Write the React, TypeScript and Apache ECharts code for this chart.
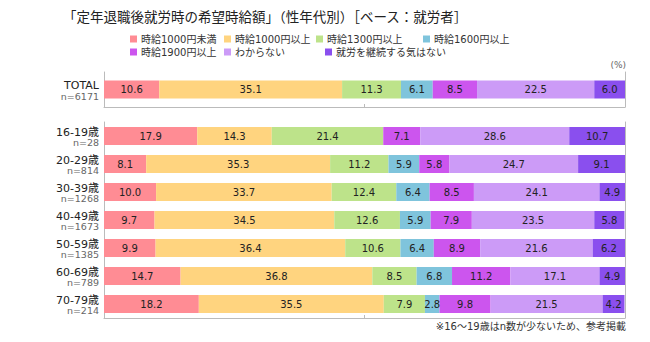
import React, { useEffect, useRef } from "react";
import * as echarts from "echarts";

const seriesNames = [
  "時給1000円未満",
  "時給1000円以上",
  "時給1300円以上",
  "時給1600円以上",
  "時給1900円以上",
  "わからない",
  "就労を継続する気はない",
];
const colors = ["#FF8C94", "#FFD47F", "#BDE38A", "#7FC4DC", "#CC55EE", "#CC9BF7", "#8A4FEE"];

const totalCategory = ["TOTAL"];
const totalN = ["6171"];
const totalValues = [[10.6], [35.1], [11.3], [6.1], [8.5], [22.5], [6.0]];

const ageCategories = ["16-19歳", "20-29歳", "30-39歳", "40-49歳", "50-59歳", "60-69歳", "70-79歳"];
const ageN = ["28", "814", "1268", "1673", "1385", "789", "214"];
// each array: one series across age groups
const under1000 = [17.9, 8.1, 10.0, 9.7, 9.9, 14.7, 18.2];
const over1000 = [14.3, 35.3, 33.7, 34.5, 36.4, 36.8, 35.5];
const over1300 = [21.4, 11.2, 12.4, 12.6, 10.6, 8.5, 7.9];
const over1600 = [null, 5.9, 6.4, 5.9, 6.4, 6.8, 2.8];
const over1900 = [7.1, 5.8, 8.5, 7.9, 8.9, 11.2, 9.8];
const unknown = [28.6, 24.7, 24.1, 23.5, 21.6, 17.1, 21.5];
const noWork = [10.7, 9.1, 4.9, 5.8, 6.2, 4.9, 4.2];
const ageValues = [under1000, over1000, over1300, over1600, over1900, unknown, noWork];

const FONT = "DejaVu Sans, Noto Sans CJK JP, sans-serif";

export default function App() {
  const ref = useRef<HTMLDivElement>(null);
  useEffect(() => {
    if (!ref.current) return;
    const chart = echarts.init(ref.current, null, { renderer: "svg" });

    const legendPos = [
      [130, 34], [224, 34], [316, 34], [423, 34],
      [130, 47], [224, 47], [325, 47],
    ];

    const xAxisBase = (gridIndex: number) => ({
      type: "value",
      gridIndex,
      min: 0,
      max: 100,
      interval: 50,
      axisLabel: { show: false },
      splitLine: { show: false },
      axisLine: { show: true, lineStyle: { color: "#BBBBBB" } },
      axisTick: { show: true, inside: true, length: 3, lineStyle: { color: "#BBBBBB" } },
    });

    const yLabel = (nList: string[], cats: string[]) => ({
      show: true,
      margin: 5,
      align: "right",
      formatter: (v: string) => {
        const i = cats.indexOf(v);
        return `{a|${v}}\n{b|n=${nList[i]}}`;
      },
      rich: {
        a: { fontSize: 11, color: "#222", fontFamily: FONT, lineHeight: 13, align: "right", padding: [4, 0, 0, 0] },
        b: { fontSize: 9.5, color: "#666", fontFamily: FONT, lineHeight: 12, align: "right" },
      },
    });

    const yAxisBase = (gridIndex: number, cats: string[], nList: string[]) => ({
      type: "category",
      gridIndex,
      data: cats,
      inverse: true,
      axisLine: { show: true, lineStyle: { color: "#BBBBBB" } },
      axisTick: { show: false },
      axisLabel: yLabel(nList, cats),
    });

    const yAxisRight = (gridIndex: number, cats: string[]) => ({
      type: "category",
      gridIndex,
      data: cats,
      inverse: true,
      position: "right",
      axisLine: { show: true, lineStyle: { color: "#BBBBBB" } },
      axisTick: { show: false },
      axisLabel: { show: false },
    });

    const labelCfg = {
      show: true,
      position: "inside",
      fontSize: 10,
      color: "#222",
      fontFamily: FONT,
      formatter: (p: any) => (p.value == null || p.value === 0 ? "" : Number(p.value).toFixed(1)),
    };

    const series: any[] = [];
    seriesNames.forEach((name, i) => {
      series.push({
        name,
        type: "bar",
        stack: "total",
        xAxisIndex: 0,
        yAxisIndex: 0,
        barWidth: 18,
        itemStyle: { color: colors[i] },
        label: labelCfg,
        data: totalValues[i],
      });
    });
    seriesNames.forEach((name, i) => {
      series.push({
        name,
        type: "bar",
        stack: "age",
        xAxisIndex: 1,
        yAxisIndex: 2,
        barWidth: 18,
        itemStyle: { color: colors[i] },
        label: labelCfg,
        data: ageValues[i],
      });
    });

    chart.setOption({
      animation: false,
      backgroundColor: "#FFFFFF",
      title: {
        text: "「定年退職後就労時の希望時給額」（性年代別）［ベース：就労者］",
        left: 58,
        top: 5,
        textStyle: { fontSize: 13.5, fontWeight: "normal", color: "#222", fontFamily: FONT },
      },
      legend: seriesNames.map((name, i) => ({
        data: [name],
        left: legendPos[i][0],
        top: legendPos[i][1],
        icon: "rect",
        itemWidth: 7,
        itemHeight: 7,
        itemGap: 4,
        padding: 0,
        selectedMode: false,
        textStyle: { fontSize: 10, color: "#333", fontFamily: FONT, padding: [0, 0, 0, -1] },
      })),
      grid: [
        { left: 104, top: 72, width: 521, height: 35 },
        { left: 104, top: 122, width: 521, height: 196 },
      ],
      xAxis: [xAxisBase(0), xAxisBase(1)],
      yAxis: [
        yAxisBase(0, totalCategory, totalN),
        yAxisRight(0, totalCategory),
        yAxisBase(1, ageCategories, ageN),
        yAxisRight(1, ageCategories),
      ],
      graphic: [
        {
          type: "text",
          right: 650 - 626,
          top: 60,
          style: { text: "(%)", fontSize: 9, fill: "#666", fontFamily: FONT },
        },
        {
          type: "text",
          right: 650 - 626,
          top: 321,
          style: { text: "※16～19歳はn数が少ないため、参考掲載", fontSize: 10, fill: "#333", fontFamily: FONT },
        },
      ],
      series,
    });
    return () => chart.dispose();
  }, []);
  return <div ref={ref} style={{ width: 650, height: 342, position: "absolute", left: 0, top: 0 }} />;
}
